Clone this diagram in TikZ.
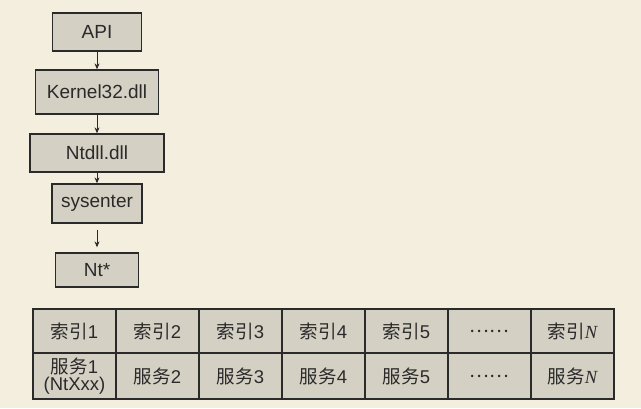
\documentclass[tikz,border=0pt]{standalone}
\usepackage{fontspec}
\setmainfont{Liberation Sans}
\newfontfamily\cjk{Noto Sans CJK SC}
\newfontfamily\serf{Liberation Serif}
\usetikzlibrary{arrows.meta}
\definecolor{bg}{HTML}{F3EEDD}
\definecolor{boxfill}{HTML}{D4D0C4}
\definecolor{ink}{HTML}{2A2A2A}
\newcommand{\NN}{{\serf\itshape N}}
\begin{document}
\begin{tikzpicture}[x=1pt,y=-1pt,
  flowbox/.style={draw=ink, line width=1.3pt, fill=boxfill, text=ink, inner sep=0pt,
    minimum height=38pt, font=\fontsize{19}{21}\selectfont},
  cell/.style={draw=ink, line width=1.3pt, fill=boxfill, text=ink, inner sep=0pt,
    minimum width=83pt, align=center, font=\fontsize{18.5}{17}\selectfont},
  toprow/.style={cell, minimum height=44pt},
  botrow/.style={cell, minimum height=46pt},
  arr/.style={draw=ink, line width=1pt, -{Stealth[length=6pt,width=5pt]}}]
\fill[bg] (0,0) rectangle (641,408);
\useasboundingbox (0,0) rectangle (641,408);

\node[flowbox, minimum width=89pt] (api) at (97,32) {API};
\node[flowbox, minimum width=123pt, minimum height=44pt] (k32) at (97,92) {Kernel32.dll};
\node[flowbox, minimum width=134pt] (ntdll) at (97,153) {Ntdll.dll};
\node[flowbox, minimum width=90pt, minimum height=39pt] (sys) at (97,203.5) {sysenter};
\node[flowbox, minimum width=83pt, minimum height=34pt] (nt) at (97,270) {Nt*};

\draw[arr] (api.south) -- (k32.north);
\draw[arr] (k32.south) -- (ntdll.north);
\draw[arr] (ntdll.south) -- (sys.north);
\draw[arr] ([yshift=-6pt]sys.south) -- ([yshift=5pt]nt.north);

\node[toprow] (i1) at (74.5,331) {{\cjk 索引}1};
\node[toprow] (i2) at (157.5,331) {{\cjk 索引}2};
\node[toprow] (i3) at (240.5,331) {{\cjk 索引}3};
\node[toprow] (i4) at (323.5,331) {{\cjk 索引}4};
\node[toprow] (i5) at (406.5,331) {{\cjk 索引}5};
\node[toprow] (i6) at (489.5,331) {{\cjk ……}};
\node[toprow] (i7) at (572.5,331) {{\cjk 索引}\NN};

\node[botrow] (s1) at (74.5,376) {{\cjk 服务}1\\(NtXxx)};
\node[botrow] (s2) at (157.5,376) {{\cjk 服务}2};
\node[botrow] (s3) at (240.5,376) {{\cjk 服务}3};
\node[botrow] (s4) at (323.5,376) {{\cjk 服务}4};
\node[botrow] (s5) at (406.5,376) {{\cjk 服务}5};
\node[botrow] (s6) at (489.5,376) {{\cjk ……}};
\node[botrow] (s7) at (572.5,376) {{\cjk 服务}\NN};
\end{tikzpicture}
\end{document}
